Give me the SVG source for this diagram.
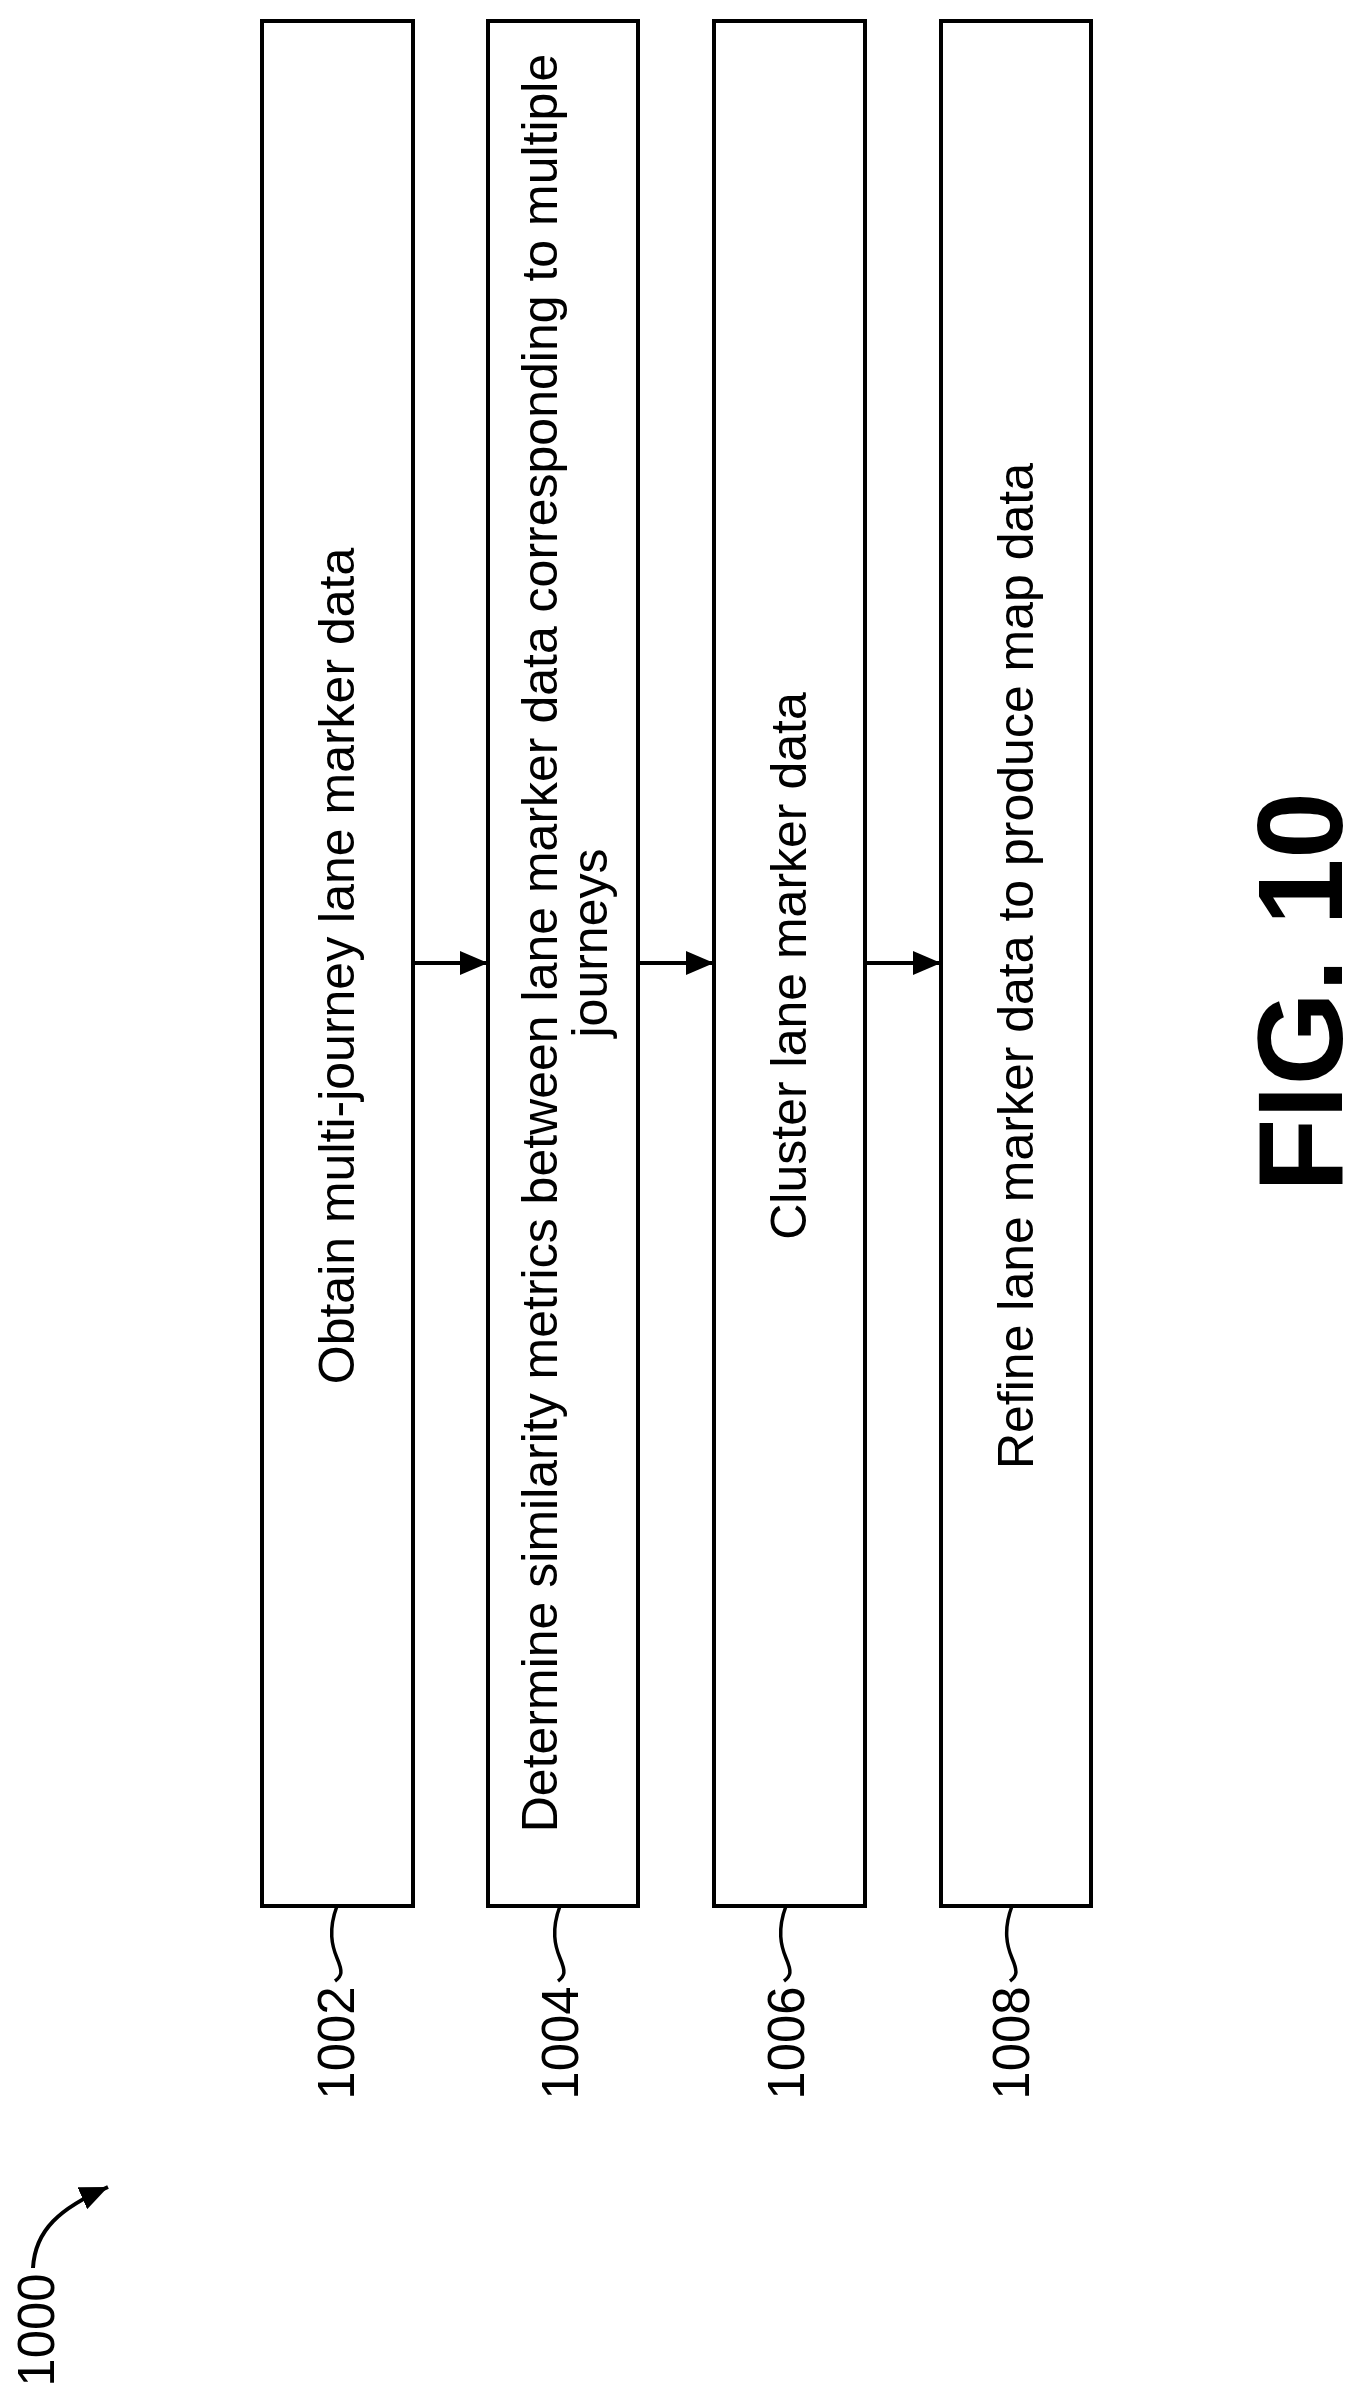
<svg xmlns="http://www.w3.org/2000/svg" width="1364" height="2393" viewBox="0 0 1364 2393">
<defs>
<style>
.box{fill:#fff;stroke:#000;stroke-width:4}
.t{font-family:"Liberation Sans",Arial,sans-serif;font-size:50px;fill:#000;text-anchor:middle;dominant-baseline:central}
.lbl{font-family:"Liberation Sans",Arial,sans-serif;font-size:51px;fill:#000;text-anchor:middle;dominant-baseline:central}
.lead{fill:none;stroke:#000;stroke-width:3.5}
.fig{font-family:"Liberation Sans",Arial,sans-serif;font-size:120px;font-weight:bold;text-anchor:middle;dominant-baseline:central}
</style>
<marker id="ah2" markerWidth="28" markerHeight="24" refX="28" refY="12" orient="auto" markerUnits="userSpaceOnUse" viewBox="0 0 28 24"><path d="M0,0 L28,12 L0,24 z" fill="#000"/></marker>
</defs>
<g id="n1002"><rect class="box" x="262" y="21" width="151" height="1885"/><text class="t" transform="translate(337,966) rotate(-90)">Obtain multi-journey lane marker data</text></g>
<g id="n1004"><rect class="box" x="488" y="21" width="150" height="1885"/><text class="t" transform="translate(540,943) rotate(-90)">Determine similarity metrics between lane marker data corresponding to multiple</text><text class="t" transform="translate(590,943) rotate(-90)">journeys</text></g>
<g id="n1006"><rect class="box" x="714" y="21" width="151" height="1885"/><text class="t" transform="translate(789,966) rotate(-90)">Cluster lane marker data</text></g>
<g id="n1008"><rect class="box" x="941" y="21" width="150" height="1885"/><text class="t" transform="translate(1016,966) rotate(-90)">Refine lane marker data to produce map data</text></g>
<g id="connectors">
<line x1="413" y1="963" x2="488" y2="963" stroke="#000" stroke-width="4" marker-end="url(#ah2)"/>
<line x1="638" y1="963" x2="714" y2="963" stroke="#000" stroke-width="4" marker-end="url(#ah2)"/>
<line x1="865" y1="963" x2="941" y2="963" stroke="#000" stroke-width="4" marker-end="url(#ah2)"/>
<path class="lead" d="M337,1906 C328,1930 332,1946 337,1958 C343,1972 342,1976 335,1981"/>
<path class="lead" d="M560,1906 C551,1930 555,1946 560,1958 C566,1972 565,1976 558,1981"/>
<path class="lead" d="M786,1906 C777,1930 781,1946 786,1958 C792,1972 791,1976 784,1981"/>
<path class="lead" d="M1012,1906 C1003,1930 1007,1946 1012,1958 C1018,1972 1017,1976 1010,1981"/>
<path d="M33,2268 C35,2230 60,2208 108,2187" fill="none" stroke="#000" stroke-width="4" marker-end="url(#ah2)"/>
</g>
<g id="labels">
<text class="lbl" transform="translate(336,2043) rotate(-90)">1002</text>
<text class="lbl" transform="translate(560,2043) rotate(-90)">1004</text>
<text class="lbl" transform="translate(786,2043) rotate(-90)">1006</text>
<text class="lbl" transform="translate(1011,2043) rotate(-90)">1008</text>
<text class="lbl" transform="translate(36,2330) rotate(-90)">1000</text>
<text class="fig" transform="translate(1300,992) rotate(-90)">FIG. 10</text>
</g>
</svg>
